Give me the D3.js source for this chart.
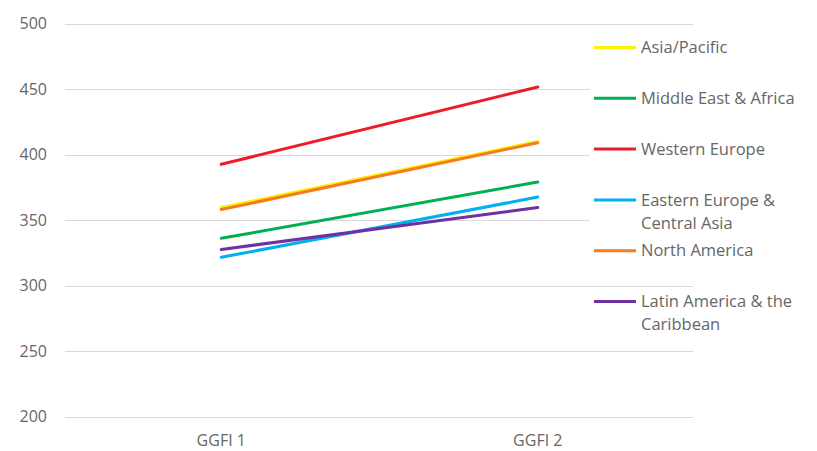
<!DOCTYPE html>
<html>
<head>
<meta charset="utf-8">
<script src="https://cdn.jsdelivr.net/npm/d3@7"></script>
<style>
  html, body { margin: 0; padding: 0; background: #fff; }
  svg { display: block; font-family: "Open Sans", "Liberation Sans", sans-serif; }
</style>
</head>
<body>
<svg id="chart" width="817" height="451"></svg>
<script>
// Index scores per region for the two editions
const categories = ["GGFI 1", "GGFI 2"];
const regions = ["Asia/Pacific", "Middle East & Africa", "Western Europe",
                 "Eastern Europe & Central Asia", "North America", "Latin America & the Caribbean"];
const legendLines = [["Asia/Pacific"], ["Middle East & Africa"], ["Western Europe"],
                     ["Eastern Europe &", "Central Asia"], ["North America"],
                     ["Latin America & the", "Caribbean"]];
const asiaPacific = [359.5, 410];
const middleEastAfrica = [336, 379];
const westernEurope = [392.5, 451.5];
const easternEurope = [321.5, 367.5];
const northAmerica = [358, 409];
const latinAmerica = [327.5, 359.5];
const colors = ["#FFF200", "#00B050", "#EE1C25", "#00B0F0", "#F47B20", "#7030A0"];
const yTicks = [200, 250, 300, 350, 400, 450, 500];

const seriesValues = [asiaPacific, middleEastAfrica, westernEurope, easternEurope, northAmerica, latinAmerica];

const svg = d3.select("#chart");
const plot = { left: 63, right: 696, top: 23.5, bottom: 416.5 };
const gridX1 = 65, gridX2 = 693;

const x = d3.scaleBand().domain(categories).range([plot.left, plot.right]);
const y = d3.scaleLinear().domain([200, 500]).range([plot.bottom, plot.top]);

// Horizontal gridlines
svg.append("g")
  .selectAll("line")
  .data(yTicks)
  .join("line")
  .attr("x1", gridX1).attr("x2", gridX2)
  .attr("y1", d => Math.round(y(d)) + 0.5).attr("y2", d => Math.round(y(d)) + 0.5)
  .attr("stroke", "#d9d9d9").attr("stroke-width", 1);

// Y axis labels
const yAxis = svg.append("g")
  .attr("transform", `translate(47,0)`)
  .call(d3.axisLeft(y).tickValues(yTicks).tickSize(0).tickPadding(0));
yAxis.select(".domain").remove();
yAxis.selectAll("text")
  .attr("fill", "#666").attr("font-size", 16)
  .attr("font-family", "\"Open Sans\", sans-serif");

// X axis labels
const xAxis = svg.append("g")
  .attr("transform", `translate(0,${plot.bottom + 18})`)
  .call(d3.axisBottom(x).tickSize(0).tickPadding(0));
xAxis.select(".domain").remove();
xAxis.selectAll("text")
  .attr("fill", "#666").attr("font-size", 16)
  .attr("font-family", "\"Open Sans\", sans-serif");

// Series lines
const line = d3.line()
  .x((d, i) => x(categories[i]) + x.bandwidth() / 2)
  .y(d => y(d));

svg.append("g")
  .selectAll("path")
  .data(seriesValues)
  .join("path")
  .attr("d", d => line(d))
  .attr("fill", "none")
  .attr("stroke", (d, i) => colors[i])
  .attr("stroke-width", 3)
  .attr("stroke-linecap", "round");

// Legend
const legend = svg.append("g");
const legendY0 = 47.5, legendStep = 50.8;
regions.forEach((name, i) => {
  const g = legend.append("g").attr("transform", `translate(0,${legendY0 + i * legendStep})`);
  const nLines = legendLines[i].length;
  g.append("rect")
    .attr("x", 590).attr("y", -11)
    .attr("width", 225).attr("height", 22 + (nLines - 1) * 23)
    .attr("fill", "#fff");
  g.append("line")
    .attr("x1", 594).attr("x2", 636)
    .attr("y1", 0).attr("y2", 0)
    .attr("stroke", colors[i]).attr("stroke-width", 3);
  legendLines[i].forEach((t, k) => {
    g.append("text")
      .attr("x", 641).attr("y", k * 23)
      .attr("dy", "0.35em")
      .attr("fill", "#666").attr("font-size", 16.5)
      .text(t);
  });
});
</script>
</body>
</html>
